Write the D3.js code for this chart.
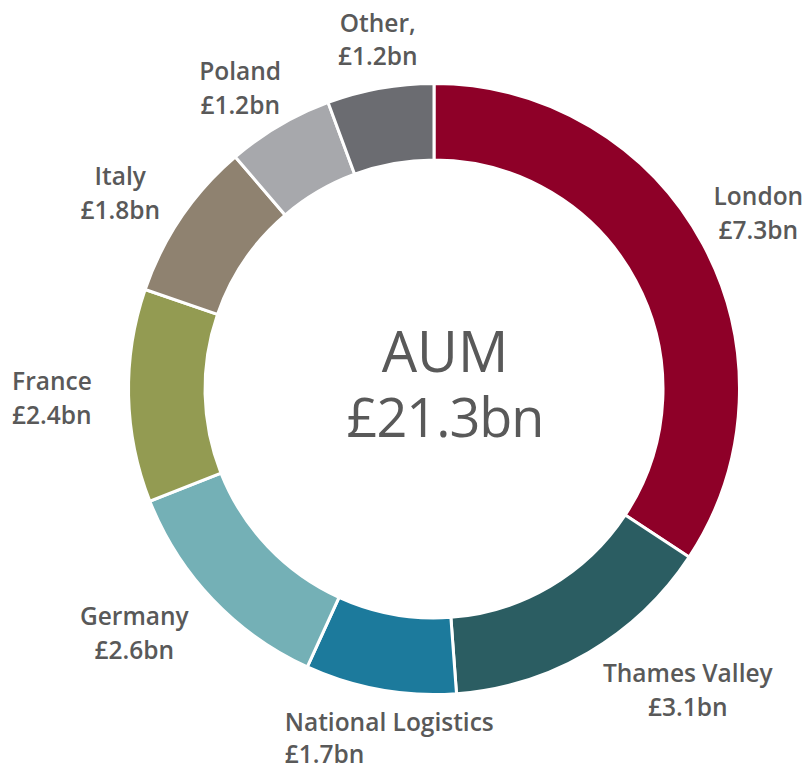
<!DOCTYPE html>
<html>
<head>
<meta charset="utf-8">
<script src="https://cdn.jsdelivr.net/npm/d3@7"></script>
<style>
  html, body { margin: 0; padding: 0; background: #fff; }
  svg { display: block; }
</style>
</head>
<body>
<svg id="chart" width="805" height="769"></svg>
<script>
// Data
const categories = ["London", "Thames Valley", "National Logistics", "Germany", "France", "Italy", "Poland", "Other"];
const values = [7.3, 3.1, 1.7, 2.6, 2.4, 1.8, 1.2, 1.2];
const valueLabels = ["£7.3bn", "£3.1bn", "£1.7bn", "£2.6bn", "£2.4bn", "£1.8bn", "£1.2bn", "£1.2bn"];
const nameLabels = ["London", "Thames Valley", "National Logistics", "Germany", "France", "Italy", "Poland", "Other,"];
const colors = ["#8E0028", "#2B5D62", "#1C7A9C", "#74B0B6", "#939B52", "#8F8270", "#A7A8AC", "#6B6C71"];
const centerTitle = "AUM";
const centerValue = "£21.3bn";

// Layout (not data)
const cx = 434, cy = 389;
const outerR = 305.5, innerR = 229;
const labelR = 365;
// per-label nudges from the polar anchor [dx, dy, anchor, line gap]
const labelNudge = [
  [3, -11, "middle", 34],
  [69, -22, "middle", 34],
  [-85, -17, "start", 32],
  [-35, -15, "middle", 34],
  [-57, -7, "start", 34],
  [-12, 1, "middle", 34],
  [-9, 6, "middle", 34],
  [8, 2, "middle", 33]
];

const svg = d3.select("#chart");
const g = svg.append("g").attr("transform", `translate(${cx},${cy})`);

const pie = d3.pie().value(d => d.value).sort(null);
const arc = d3.arc().innerRadius(innerR).outerRadius(outerR);
const data = categories.map((c, i) => ({ name: c, value: values[i], color: colors[i], label: nameLabels[i], vlabel: valueLabels[i] }));
const arcs = pie(data);

g.selectAll("path.slice")
  .data(arcs)
  .join("path")
  .attr("class", "slice")
  .attr("d", arc)
  .attr("fill", d => d.data.color)
  .attr("stroke", "#fff")
  .attr("stroke-width", 3)
  .attr("stroke-linejoin", "miter");

// labels
const labelG = g.selectAll("g.lbl")
  .data(arcs)
  .join("g")
  .attr("class", "lbl")
  .attr("transform", (d, i) => {
    const a = (d.startAngle + d.endAngle) / 2;
    const x = Math.sin(a) * labelR + labelNudge[i][0];
    const y = -Math.cos(a) * labelR + labelNudge[i][1];
    return `translate(${x},${y})`;
  });

labelG.append("text")
  .attr("text-anchor", (d, i) => labelNudge[i][2])
  .attr("font-family", "'Open Sans', sans-serif")
  .attr("font-weight", 600)
  .attr("font-size", 24.5)
  .attr("fill", "#595959")
  .each(function(d, i) {
    const t = d3.select(this);
    t.append("tspan").attr("x", 0).attr("y", 0).text(d.data.label);
    t.append("tspan").attr("x", 0).attr("y", labelNudge[i][3]).text(d.data.vlabel);
  });

// center text
const ct = g.append("text")
  .attr("text-anchor", "middle")
  .attr("font-family", "'Open Sans', sans-serif")
  .attr("fill", "#595959");
ct.append("tspan")
  .attr("x", 11).attr("y", -17)
  .attr("font-size", 56)
  .text(centerTitle);
ct.append("tspan")
  .attr("x", 11).attr("y", 48)
  .attr("font-size", 54)
  .attr("letter-spacing", -1)
  .text(centerValue);
</script>
</body>
</html>
